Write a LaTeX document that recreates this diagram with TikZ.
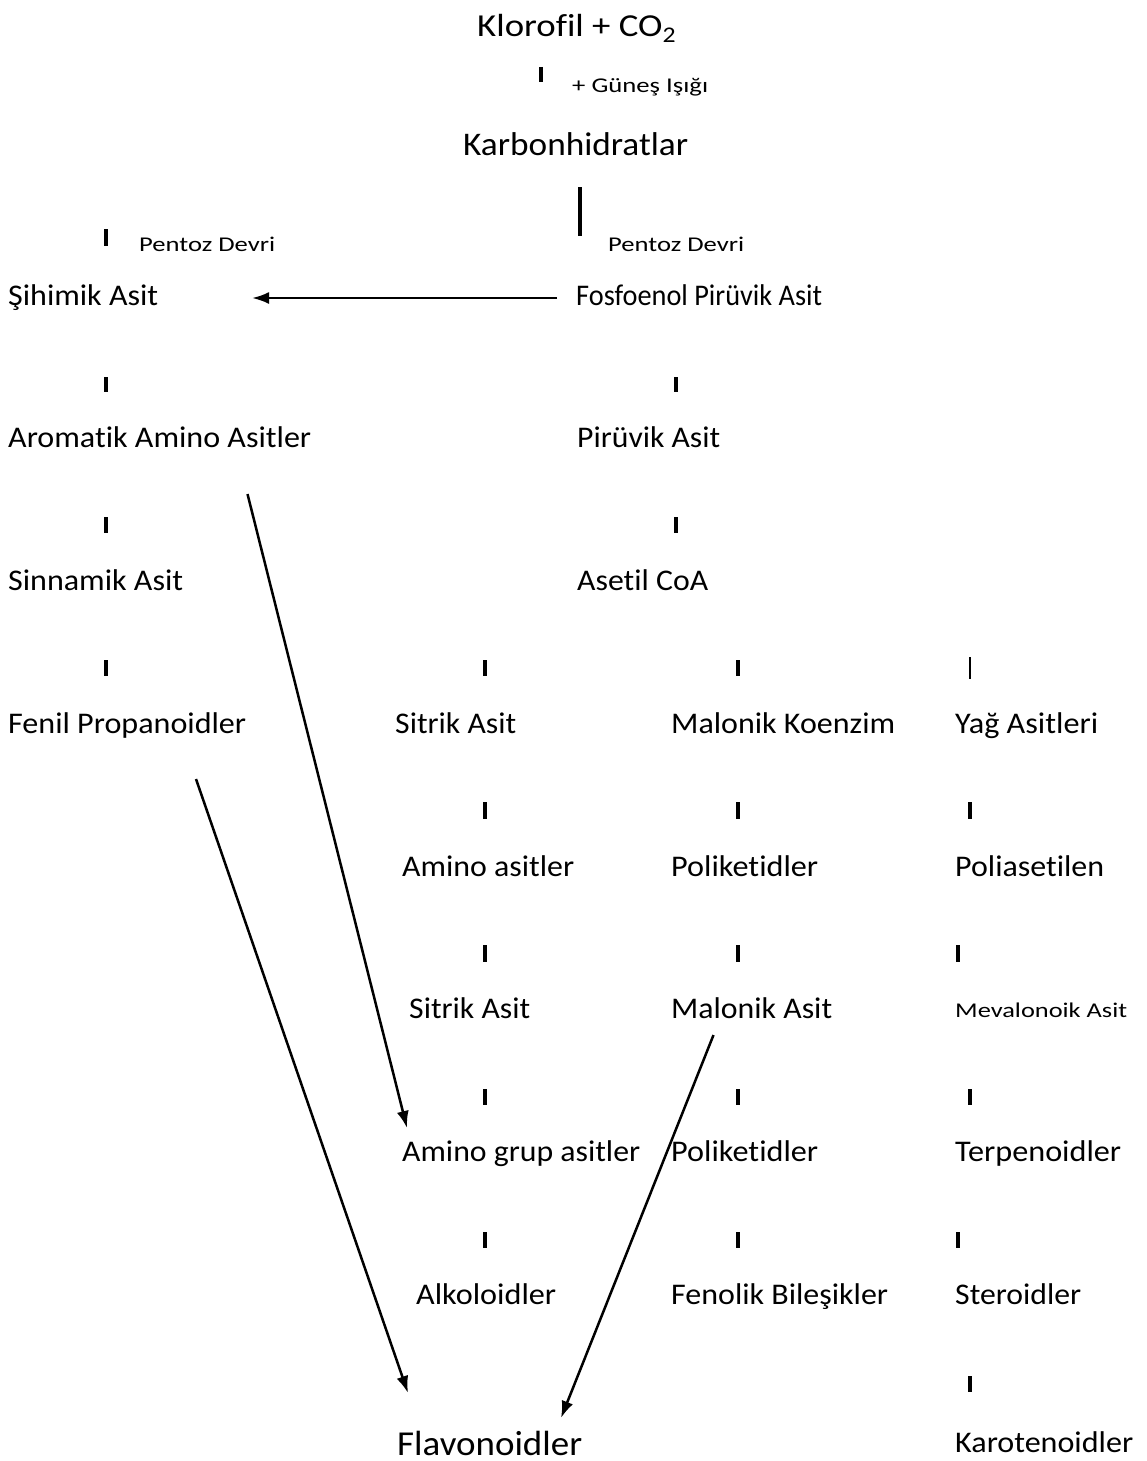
\documentclass[tikz,border=0pt]{standalone}
\usepackage{fontspec}
\setmainfont{Carlito}[Ligatures=NoCommon]
\usetikzlibrary{arrows.meta}
\newlength\twlen
\newcommand\tw[2]{\settowidth{\twlen}{#2}\pgfmathsetmacro\twscale{#1/\twlen}\scalebox{\twscale}[1]{#2}}
\tikzset{
  lbl/.style={inner sep=0pt, anchor=base west, font=\fontsize{30}{34}\selectfont},
  small/.style={inner sep=0pt, anchor=base west, font=\fontsize{21}{25}\selectfont},
  bar/.style={line width=3.6pt},
  thinbar/.style={line width=1.5pt},
  arr/.style={line width=2.5pt, -{Latex[length=17pt,width=12pt]}}
}
\begin{document}
\begin{tikzpicture}[x=1pt,y=-1pt]
\useasboundingbox[fill=white] (0,0) rectangle (1146,1461);
% top
\node[lbl, font=\fontsize{32}{36}\selectfont] (klo) at (477,37) {\tw{199}{Klorofil + CO\textsubscript{2}}};
\node[small] (gun) at (572,93) {\tw{136}{+ Güneş Işığı}};
\node[lbl, font=\fontsize{33}{37}\selectfont] (kar) at (463,156) {\tw{225}{Karbonhidratlar}};
\node[small] (pd1) at (139,251) {\tw{136}{Pentoz Devri}};
\node[small] (pd2) at (608,251) {\tw{136}{Pentoz Devri}};
% left column
\node[lbl] (sih) at (8,305) {\tw{150}{Şihimik Asit}};
\node[lbl] (aro) at (8,447) {\tw{303}{Aromatik Amino Asitler}};
\node[lbl] (sin) at (8,590) {\tw{175}{Sinnamik Asit}};
\node[lbl] (fen) at (8,733) {\tw{238}{Fenil Propanoidler}};
% middle column
\node[lbl] (fos) at (576,305) {\tw{246}{Fosfoenol Pirüvik Asit}};
\node[lbl] (pir) at (577,447) {\tw{143}{Pirüvik Asit}};
\node[lbl] (ase) at (577,590) {\tw{131}{Asetil CoA}};
% columns
\node[lbl] (sit1) at (395,733) {\tw{121}{Sitrik Asit}};
\node[lbl] (amn) at (402,876) {\tw{172}{Amino asitler}};
\node[lbl] (sit2) at (409,1018) {\tw{121}{Sitrik Asit}};
\node[lbl] (amg) at (402,1161) {\tw{238}{Amino grup asitler}};
\node[lbl] (alk) at (416,1304) {\tw{140}{Alkoloidler}};
\node[lbl] (mak) at (671,733) {\tw{224}{Malonik Koenzim}};
\node[lbl] (pol1) at (671,876) {\tw{147}{Poliketidler}};
\node[lbl] (maa) at (671,1018) {\tw{161}{Malonik Asit}};
\node[lbl] (pol2) at (671,1161) {\tw{147}{Poliketidler}};
\node[lbl] (fnb) at (671,1304) {\tw{217}{Fenolik Bileşikler}};
\node[lbl] (yag) at (955,733) {\tw{143}{Yağ Asitleri}};
\node[lbl] (pla) at (955,876) {\tw{149}{Poliasetilen}};
\node[small] (mev) at (955,1017) {\tw{172}{Mevalonoik Asit}};
\node[lbl] (ter) at (955,1161) {\tw{166}{Terpenoidler}};
\node[lbl] (ste) at (955,1304) {\tw{126}{Steroidler}};
\node[lbl] (krt) at (955,1452) {\tw{178}{Karotenoidler}};
\node[lbl, font=\fontsize{35}{39}\selectfont] (fla) at (397,1455) {\tw{185}{Flavonoidler}};
% bars
\draw[bar] (541,67) -- (541,82);
\draw[line width=4pt] (580,187) -- (580,236);
\draw[bar] (106,229) -- (106,246);
\foreach \x in {106,676}{
  \draw[bar] (\x,377) -- (\x,392);
  \draw[bar] (\x,517) -- (\x,533);
}
\foreach \x in {106,485,738}{\draw[bar] (\x,660) -- (\x,676);}
\draw[thinbar] (970,657) -- (970,679);
\foreach \x in {485,738,970}{\draw[bar] (\x,802) -- (\x,819);}
\foreach \x in {485,738,958}{\draw[bar] (\x,945) -- (\x,962);}
\foreach \x in {485,738,970}{\draw[bar] (\x,1089) -- (\x,1105);}
\foreach \x in {485,738,958}{\draw[bar] (\x,1232) -- (\x,1248);}
\draw[bar] (970,1376) -- (970,1392);
% arrows
\coordinate (a1s) at (557,298);
\coordinate (a1e) at (252,298);
\coordinate (a2s) at (247.5,494);
\coordinate (a2e) at (407,1128);
\coordinate (a3s) at (196,779);
\coordinate (a3e) at (408,1393);
\coordinate (a4s) at (713.5,1035);
\coordinate (a4e) at (561,1418);
\draw[arr] (a1s) -- (a1e);
\draw[arr] (a2s) -- (a2e);
\draw[arr] (a3s) -- (a3e);
\draw[arr] (a4s) -- (a4e);
\end{tikzpicture}
\end{document}
